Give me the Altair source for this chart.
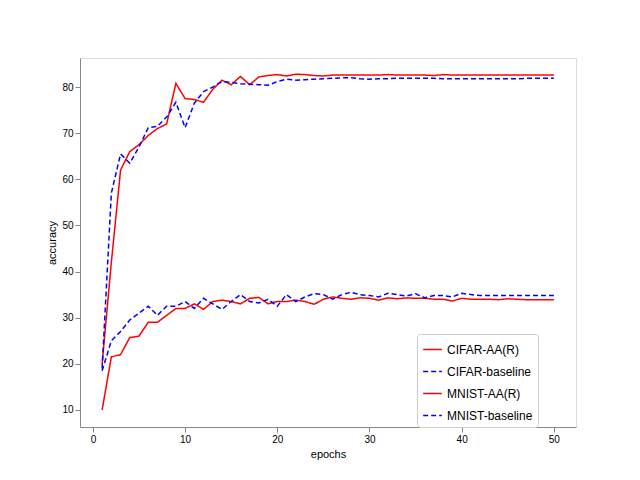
import altair as alt
import pandas as pd

epochs = list(range(1, 51))
cifar_aa = [20, 42, 62, 66, 67.5, 69.5, 71, 72, 80.8, 77.5, 77.3, 76.7, 79.5, 81.5, 80.5, 82.3, 80.5, 82.2, 82.5, 82.7,
            82.4, 82.8, 82.7, 82.5, 82.4, 82.6, 82.6, 82.6, 82.6, 82.6, 82.6, 82.7, 82.6, 82.6, 82.6, 82.6, 82.5, 82.7, 82.6, 82.6,
            82.6, 82.6, 82.6, 82.6, 82.6, 82.6, 82.6, 82.6, 82.6, 82.6]
cifar_base = [19, 57, 65.5, 63.5, 67, 71.2, 71.5, 73.5, 76.7, 71.2, 76.5, 79, 80, 81.2, 81, 80.7, 80.6, 80.5, 80.4, 81.2,
              81.7, 81.5, 81.6, 81.7, 81.8, 81.9, 82.0, 82.0, 81.8, 81.7, 81.8, 81.8, 81.9, 81.9, 81.9, 81.9, 81.9, 81.8, 81.8, 81.8,
              81.8, 81.8, 81.8, 81.8, 81.8, 81.8, 81.9, 81.9, 81.9, 81.9]
mnist_aa = [10, 21.5, 22, 25.7, 26, 29, 29, 30.5, 32, 32, 33, 31.8, 33.5, 33.8, 33.5, 33, 34.2, 34.4, 33, 33.5,
            33.5, 33.8, 33.5, 32.9, 34, 34.5, 34.2, 34, 34.3, 34.2, 33.8, 34.3, 34.1, 34.3, 34.2, 34.2, 34.0, 34.0, 33.6, 34.2,
            34.0, 34.0, 34.0, 33.9, 34.1, 34.0, 33.9, 33.9, 33.9, 33.9]
mnist_base = [18.5, 25, 27, 29.5, 31, 32.5, 30.5, 32.5, 32.5, 33.5, 32, 34.2, 33, 31.8, 33.5, 35, 33.5, 33.2, 34, 32.5,
              35, 33.5, 34.5, 35.2, 35, 34, 35, 35.5, 35, 34.8, 34.5, 35.3, 35, 34.7, 35.2, 34.3, 34.8, 34.8, 34.5, 35.3,
              35, 34.8, 34.8, 34.8, 34.8, 34.8, 34.8, 34.8, 34.8, 34.8]
names = ["CIFAR-AA(R)", "CIFAR-baseline", "MNIST-AA(R)", "MNIST-baseline"]

rows = []
for n, vals in zip(names, [cifar_aa, cifar_base, mnist_aa, mnist_base]):
    for e, v in zip(epochs, vals):
        rows.append({"epochs": e, "accuracy": v, "series": n})
df = pd.DataFrame(rows)

chart = alt.Chart(df).mark_line(strokeWidth=1.5).encode(
    x=alt.X("epochs:Q", scale=alt.Scale(domain=[-1.4, 52.4], nice=False, zero=False),
            axis=alt.Axis(values=[0, 10, 20, 30, 40, 50], grid=False, title="epochs", titleFontWeight="normal")),
    y=alt.Y("accuracy:Q", scale=alt.Scale(domain=[6.3, 86.3], nice=False, zero=False),
            axis=alt.Axis(values=[10, 20, 30, 40, 50, 60, 70, 80], grid=False, title="accuracy", titleFontWeight="normal")),
    color=alt.Color("series:N", scale=alt.Scale(domain=names, range=["red", "blue", "red", "blue"]),
                    legend=alt.Legend(title=None, orient="none", legendX=337, legendY=276,
                                      symbolType="stroke", symbolStrokeWidth=1.5, symbolSize=350,
                                      labelFontSize=12, padding=5, strokeColor="#ccc", fillColor="white",
                                      cornerRadius=3, rowPadding=5)),
    strokeDash=alt.StrokeDash("series:N", scale=alt.Scale(domain=names, range=[[1, 0], [5, 3], [1, 0], [5, 3]]),
                              legend=None),
).properties(width=496, height=369, padding={"left": 72, "top": 50, "right": 56, "bottom": 45}).configure_view(
    stroke="black"
).configure_axis(
    labelFontSize=12, titleFontSize=12, labelFont="DejaVu Sans", titleFont="DejaVu Sans",
    domainColor="black", tickColor="black", labelColor="black", titleColor="black"
).configure_legend(labelFont="DejaVu Sans").configure(autosize="none")

chart.save("out.html", embed_options={"renderer": "svg", "actions": False})
